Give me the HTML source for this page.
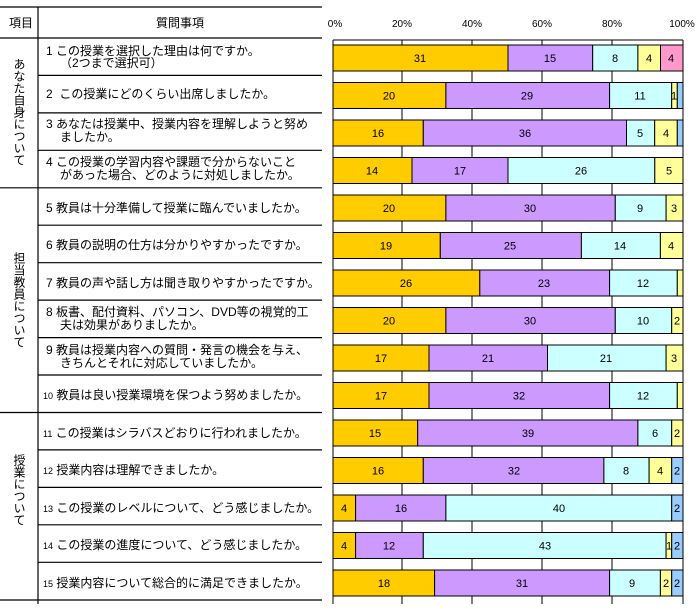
<!DOCTYPE html>
<html><head><meta charset="utf-8"><style>
body{margin:0;background:#fff;}
svg{display:block;font-family:"Liberation Sans","Noto Sans CJK JP",sans-serif;}
.q{font-size:12px;fill:#000}
.n{font-size:11px;text-anchor:middle;fill:#000}
.a{font-size:10px;text-anchor:middle}
rect{stroke:#000;stroke-width:1}
</style></head><body>
<svg width="700" height="614" viewBox="0 0 700 614">
<g stroke="#000" stroke-width="1.2">
<line x1="0" y1="7" x2="322" y2="7"/>
<line x1="38" y1="7" x2="38" y2="604"/>
<line x1="0" y1="38" x2="322" y2="38"/>
<line x1="38" y1="75.4" x2="322" y2="75.4"/>
<line x1="38" y1="112.9" x2="322" y2="112.9"/>
<line x1="38" y1="150.3" x2="322" y2="150.3"/>
<line x1="0" y1="187.8" x2="322" y2="187.8"/>
<line x1="38" y1="225.2" x2="322" y2="225.2"/>
<line x1="38" y1="262.7" x2="322" y2="262.7"/>
<line x1="38" y1="300.1" x2="322" y2="300.1"/>
<line x1="38" y1="337.6" x2="322" y2="337.6"/>
<line x1="38" y1="375" x2="322" y2="375"/>
<line x1="0" y1="412.5" x2="322" y2="412.5"/>
<line x1="38" y1="449.9" x2="322" y2="449.9"/>
<line x1="38" y1="487.4" x2="322" y2="487.4"/>
<line x1="38" y1="524.8" x2="322" y2="524.8"/>
<line x1="38" y1="562.3" x2="322" y2="562.3"/>
<line x1="0" y1="600" x2="322" y2="600"/>
</g>
<text x="9" y="27" class="q">項目</text>
<text x="180" y="27" class="q" text-anchor="middle">質問事項</text>
<text x="19" y="112" class="q" writing-mode="tb" text-anchor="middle" style="writing-mode:vertical-rl">あなた自身について</text>
<text x="19" y="300" class="q" writing-mode="tb" text-anchor="middle" style="writing-mode:vertical-rl">担当教員について</text>
<text x="19" y="490" class="q" writing-mode="tb" text-anchor="middle" style="writing-mode:vertical-rl">授業について</text>

<text x="46" y="55" class="q">1 この授業を選択した理由は何ですか。</text>
<text x="60" y="67" class="q">（2つまで選択可）</text>
<text x="46" y="98" class="q">2 &#160;この授業にどのくらい出席しましたか。</text>
<text x="46" y="128" class="q">3 あなたは授業中、授業内容を理解しようと努め</text>
<text x="60" y="141" class="q">ましたか。</text>
<text x="46" y="166" class="q">4 この授業の学習内容や課題で分からないこと</text>
<text x="60" y="179" class="q">があった場合、どのように対処しましたか。</text>
<text x="46" y="212" class="q">5 教員は十分準備して授業に臨んでいましたか。</text>
<text x="46" y="249" class="q">6 教員の説明の仕方は分かりやすかったですか。</text>
<text x="46" y="287" class="q">7 教員の声や話し方は聞き取りやすかったですか。</text>
<text x="46" y="316" class="q">8 板書、配付資料、パソコン、DVD等の視覚的工</text>
<text x="60" y="329" class="q">夫は効果がありましたか。</text>
<text x="46" y="354" class="q">9 教員は授業内容への質問・発言の機会を与え、</text>
<text x="60" y="367" class="q">きちんとそれに対応していましたか。</text>
<text x="43" y="399" class="q"><tspan font-size="9">10</tspan> 教員は良い授業環境を保つよう努めましたか。</text>
<text x="43" y="437" class="q"><tspan font-size="9">11</tspan> この授業はシラバスどおりに行われましたか。</text>
<text x="43" y="474" class="q"><tspan font-size="9">12</tspan> 授業内容は理解できましたか。</text>
<text x="43" y="512" class="q"><tspan font-size="9">13</tspan> この授業のレベルについて、どう感じましたか。</text>
<text x="43" y="549" class="q"><tspan font-size="9">14</tspan> この授業の進度について、どう感じましたか。</text>
<text x="43" y="587" class="q"><tspan font-size="9">15</tspan> 授業内容について総合的に満足できましたか。</text>

<text x="335" y="27" class="a">0%</text>
<text x="402" y="27" class="a">20%</text>
<text x="472" y="27" class="a">40%</text>
<text x="542" y="27" class="a">60%</text>
<text x="612" y="27" class="a">80%</text>
<text x="682" y="27" class="a">100%</text>

<g stroke="#000" stroke-width="1">
<line x1="333" y1="40" x2="683" y2="40"/>
<line x1="333" y1="40" x2="333" y2="604"/>
<line x1="402" y1="40" x2="402" y2="604"/>
<line x1="472" y1="40" x2="472" y2="604"/>
<line x1="542" y1="40" x2="542" y2="604"/>
<line x1="612" y1="40" x2="612" y2="604"/>
<line x1="683" y1="40" x2="683" y2="604"/>
</g>

<defs>
<style>.o{fill:#FFCC00}.p{fill:#CC99FF}.c{fill:#CCFFFF}.y{fill:#FFFF99}.k{fill:#FF99CC}.b{fill:#99CCFF}</style>
</defs>
<g transform="translate(0,45)">
<rect class="o" x="333" y="0" width="175" height="26"/><rect class="p" x="508" y="0" width="84.7" height="26"/><rect class="c" x="592.7" y="0" width="45.2" height="26"/><rect class="y" x="637.9" y="0" width="22.6" height="26"/><rect class="k" x="660.5" y="0" width="22.5" height="26"/>
<text class="n" y="17" x="420">31</text><text class="n" y="17" x="550">15</text><text class="n" y="17" x="615">8</text><text class="n" y="17" x="649">4</text><text class="n" y="17" x="671">4</text>
</g>
<g transform="translate(0,82.5)">
<rect class="o" x="333" y="0" width="112.9" height="26"/><rect class="p" x="445.9" y="0" width="163.7" height="26"/><rect class="c" x="609.6" y="0" width="62.1" height="26"/><rect class="y" x="671.7" y="0" width="5.6" height="26"/><rect class="b" x="677.3" y="0" width="5.7" height="26"/>
<text class="n" y="17" x="389">20</text><text class="n" y="17" x="527">29</text><text class="n" y="17" x="640">11</text><text class="n" y="17" x="674" font-size="8">1</text>
</g>
<g transform="translate(0,120)">
<rect class="o" x="333" y="0" width="90.3" height="26"/><rect class="p" x="423.3" y="0" width="203.2" height="26"/><rect class="c" x="626.5" y="0" width="28.2" height="26"/><rect class="y" x="654.7" y="0" width="22.6" height="26"/><rect class="b" x="677.3" y="0" width="5.7" height="26"/>
<text class="n" y="17" x="378">16</text><text class="n" y="17" x="525">36</text><text class="n" y="17" x="640">5</text><text class="n" y="17" x="666">4</text>
</g>
<g transform="translate(0,157.5)">
<rect class="o" x="333" y="0" width="79" height="26"/><rect class="p" x="412" y="0" width="96" height="26"/><rect class="c" x="508" y="0" width="146.8" height="26"/><rect class="y" x="654.8" y="0" width="28.2" height="26"/>
<text class="n" y="17" x="372">14</text><text class="n" y="17" x="460">17</text><text class="n" y="17" x="581">26</text><text class="n" y="17" x="669">5</text>
</g>
<g transform="translate(0,195)">
<rect class="o" x="333" y="0" width="112.9" height="26"/><rect class="p" x="445.9" y="0" width="169.4" height="26"/><rect class="c" x="615.3" y="0" width="50.8" height="26"/><rect class="y" x="666.1" y="0" width="16.9" height="26"/>
<text class="n" y="17" x="389">20</text><text class="n" y="17" x="530">30</text><text class="n" y="17" x="640">9</text><text class="n" y="17" x="674">3</text>
</g>
<g transform="translate(0,232.5)">
<rect class="o" x="333" y="0" width="107.3" height="26"/><rect class="p" x="440.3" y="0" width="141.1" height="26"/><rect class="c" x="581.4" y="0" width="79" height="26"/><rect class="y" x="660.4" y="0" width="22.6" height="26"/>
<text class="n" y="17" x="386">19</text><text class="n" y="17" x="510">25</text><text class="n" y="17" x="620">14</text><text class="n" y="17" x="671">4</text>
</g>
<g transform="translate(0,270)">
<rect class="o" x="333" y="0" width="146.8" height="26"/><rect class="p" x="479.8" y="0" width="129.8" height="26"/><rect class="c" x="609.6" y="0" width="67.7" height="26"/><rect class="y" x="677.3" y="0" width="5.7" height="26"/>
<text class="n" y="17" x="406">26</text><text class="n" y="17" x="544">23</text><text class="n" y="17" x="643">12</text>
</g>
<g transform="translate(0,307.5)">
<rect class="o" x="333" y="0" width="112.9" height="26"/><rect class="p" x="445.9" y="0" width="169.4" height="26"/><rect class="c" x="615.3" y="0" width="56.4" height="26"/><rect class="y" x="671.7" y="0" width="11.3" height="26"/>
<text class="n" y="17" x="389">20</text><text class="n" y="17" x="530">30</text><text class="n" y="17" x="643">10</text><text class="n" y="17" x="677">2</text>
</g>
<g transform="translate(0,345)">
<rect class="o" x="333" y="0" width="96" height="26"/><rect class="p" x="429" y="0" width="118.5" height="26"/><rect class="c" x="547.5" y="0" width="118.6" height="26"/><rect class="y" x="666.1" y="0" width="16.9" height="26"/>
<text class="n" y="17" x="381">17</text><text class="n" y="17" x="488">21</text><text class="n" y="17" x="606">21</text><text class="n" y="17" x="674">3</text>
</g>
<g transform="translate(0,382.5)">
<rect class="o" x="333" y="0" width="96" height="26"/><rect class="p" x="429" y="0" width="180.6" height="26"/><rect class="c" x="609.6" y="0" width="67.7" height="26"/><rect class="y" x="677.3" y="0" width="5.7" height="26"/>
<text class="n" y="17" x="381">17</text><text class="n" y="17" x="519">32</text><text class="n" y="17" x="643">12</text>
</g>
<g transform="translate(0,420)">
<rect class="o" x="333" y="0" width="84.7" height="26"/><rect class="p" x="417.7" y="0" width="220.2" height="26"/><rect class="c" x="637.9" y="0" width="33.8" height="26"/><rect class="y" x="671.7" y="0" width="11.3" height="26"/>
<text class="n" y="17" x="375">15</text><text class="n" y="17" x="528">39</text><text class="n" y="17" x="655">6</text><text class="n" y="17" x="677">2</text>
</g>
<g transform="translate(0,457.5)">
<rect class="o" x="333" y="0" width="90.3" height="26"/><rect class="p" x="423.3" y="0" width="180.6" height="26"/><rect class="c" x="603.9" y="0" width="45.2" height="26"/><rect class="y" x="649.1" y="0" width="22.6" height="26"/><rect class="b" x="671.7" y="0" width="11.3" height="26"/>
<text class="n" y="17" x="378">16</text><text class="n" y="17" x="514">32</text><text class="n" y="17" x="626">8</text><text class="n" y="17" x="660">4</text><text class="n" y="17" x="677">2</text>
</g>
<g transform="translate(0,495)">
<rect class="o" x="333" y="0" width="22.6" height="26"/><rect class="p" x="355.6" y="0" width="90.3" height="26"/><rect class="c" x="445.9" y="0" width="225.8" height="26"/><rect class="b" x="671.7" y="0" width="11.3" height="26"/>
<text class="n" y="17" x="344">4</text><text class="n" y="17" x="401">16</text><text class="n" y="17" x="559">40</text><text class="n" y="17" x="677">2</text>
</g>
<g transform="translate(0,532.5)">
<rect class="o" x="333" y="0" width="22.6" height="26"/><rect class="p" x="355.6" y="0" width="67.7" height="26"/><rect class="c" x="423.3" y="0" width="242.8" height="26"/><rect class="y" x="666.1" y="0" width="5.6" height="26"/><rect class="b" x="671.7" y="0" width="11.3" height="26"/>
<text class="n" y="17" x="344">4</text><text class="n" y="17" x="389">12</text><text class="n" y="17" x="545">43</text><text class="n" y="17" x="669" font-size="8">1</text><text class="n" y="17" x="677">2</text>
</g>
<g transform="translate(0,570)">
<rect class="o" x="333" y="0" width="101.6" height="26"/><rect class="p" x="434.6" y="0" width="175" height="26"/><rect class="c" x="609.6" y="0" width="50.8" height="26"/><rect class="y" x="660.4" y="0" width="11.3" height="26"/><rect class="b" x="671.7" y="0" width="11.3" height="26"/>
<text class="n" y="17" x="384">18</text><text class="n" y="17" x="522">31</text><text class="n" y="17" x="632">9</text><text class="n" y="17" x="666">2</text><text class="n" y="17" x="677">2</text>
</g>
</svg>
</body></html>
